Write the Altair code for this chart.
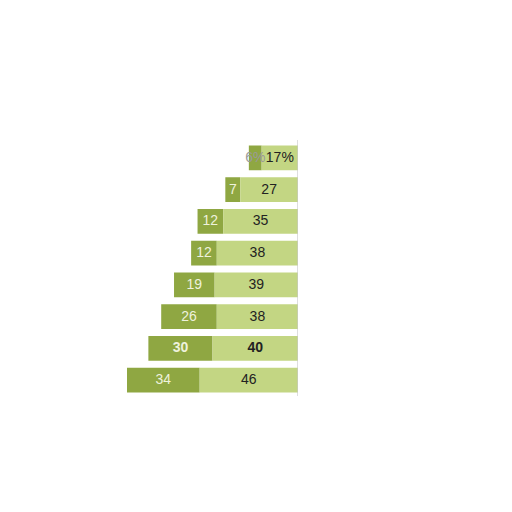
import altair as alt
import pandas as pd

rows = [1, 2, 3, 4, 5, 6, 7, 8]
dark = [6, 7, 12, 12, 19, 26, 30, 34]
light = [17, 27, 35, 38, 39, 38, 40, 46]
dark_labels = ["6%", "7", "12", "12", "19", "26", "30", "34"]
light_labels = ["17%", "27", "35", "38", "39", "38", "40", "46"]
bold_row = 7

recs = []
for r, d, l, dl, ll in zip(rows, dark, light, dark_labels, light_labels):
    recs.append(dict(row=r, seg="dark", x0=-(d + l), x1=-l, label=dl,
                     tcolor=("#9a9a9a" if r == 1 else "#eef2dc"),
                     weight=("bold" if r == bold_row else "normal")))
    recs.append(dict(row=r, seg="light", x0=-l, x1=0, label=ll,
                     tcolor="#222222",
                     weight=("bold" if r == bold_row else "normal")))
df = pd.DataFrame(recs)

xs = alt.Scale(domain=[-80, 0], nice=False, zero=False)
ys = alt.Scale(domain=rows, paddingInner=0.22, paddingOuter=0.11)

base = alt.Chart(df)

bars = base.mark_bar(cornerRadius=0).encode(
    x=alt.X("x0:Q", scale=xs, axis=None),
    x2="x1:Q",
    y=alt.Y("row:O", scale=ys, axis=None),
    color=alt.Color("seg:N", scale=alt.Scale(domain=["dark", "light"],
                                             range=["#8fa742", "#c3d683"]),
                    legend=None),
)

axis_line = alt.Chart(pd.DataFrame({"v": [0]})).mark_rule(
    color="#c8c8c8", strokeWidth=1.2
).encode(
    x=alt.X("v:Q", scale=xs, axis=None),
    y=alt.value(-2),
    y2=alt.value(258),
)

normal = base.transform_filter(alt.datum.weight == "normal").transform_calculate(
    mid="(datum.x0 + datum.x1) / 2"
).mark_text(font="Liberation Sans", fontSize=14, baseline="middle", align="center").encode(
    x=alt.X("mid:Q", scale=xs, axis=None),
    y=alt.Y("row:O", scale=ys, axis=None),
    text="label:N",
    color=alt.Color("tcolor:N", scale=None),
)

boldt = base.transform_filter(alt.datum.weight == "bold").transform_calculate(
    mid="(datum.x0 + datum.x1) / 2"
).mark_text(font="Liberation Sans", fontSize=14, fontWeight="bold", baseline="middle",
            align="center").encode(
    x=alt.X("mid:Q", scale=xs, axis=None),
    y=alt.Y("row:O", scale=ys, axis=None),
    text="label:N",
    color=alt.Color("tcolor:N", scale=None),
)

chart = alt.layer(bars, axis_line, normal, boldt).properties(
    width=171, height=254,
    background="white",
    autosize=alt.AutoSizeParams(type="none"),
    padding={"left": 119, "top": 134, "right": 0, "bottom": 0},
).configure_view(stroke=None, strokeWidth=0).configure_axis(
    grid=False, domain=False
)

chart.save("out.html", embed_options={"renderer": "svg", "actions": False})
